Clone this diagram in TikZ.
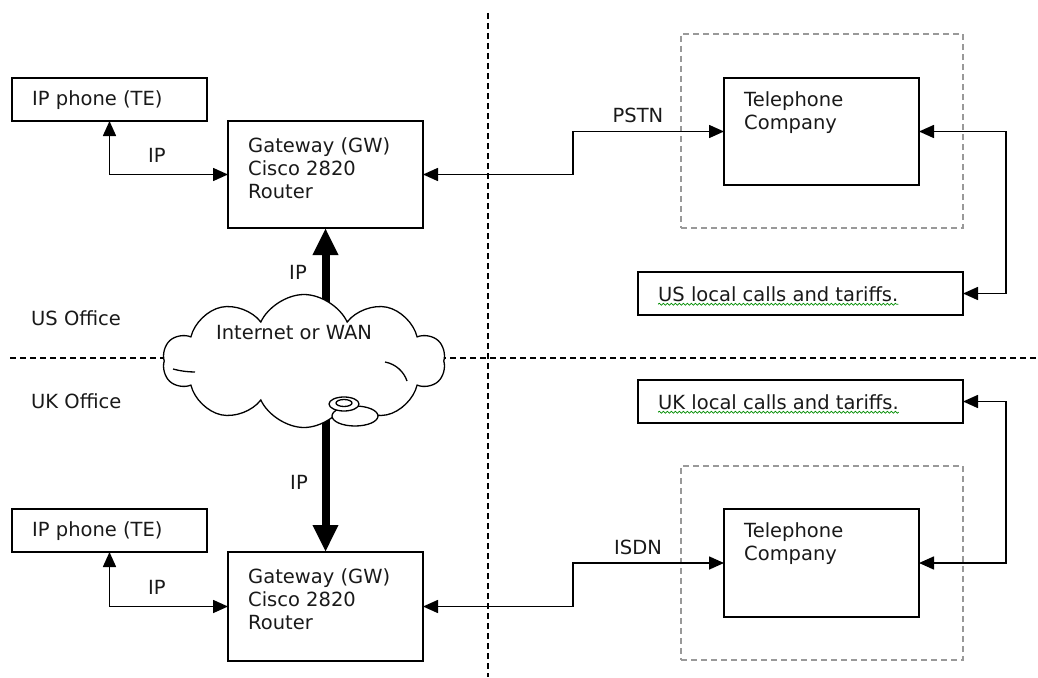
\documentclass[tikz,border=0pt]{standalone}
\usepackage{fontspec}
\setmainfont{DejaVu Sans}
\usetikzlibrary{arrows.meta,shapes.symbols,decorations.pathmorphing}
\begin{document}
\begin{tikzpicture}[x=1pt,y=-1pt,
  box/.style={draw=black,line width=1.8pt,anchor=north west,inner sep=0pt,outer sep=0pt},
  grpbox/.style={draw=black!40,line width=1.3pt,dash pattern=on 6pt off 4pt,anchor=north west,inner sep=0pt,outer sep=0pt},
  txt/.style={anchor=west,align=left,inner sep=0pt,font=\fontsize{19.5pt}{23pt}\selectfont,text=black!90},
  lbl/.style={inner sep=0pt,font=\fontsize{19.5pt}{23pt}\selectfont,text=black!90},
  conn/.style={line width=1.6pt,<->,>={Triangle[length=15pt,width=13pt]}},
  bigarrow/.style={line width=8pt,-{Triangle[length=27pt,width=24pt]}},
  divider/.style={line width=1.5pt,dash pattern=on 6pt off 4pt},
  squiggle/.style={draw=green!55!black,line width=0.7pt,decorate,decoration={snake,amplitude=1pt,segment length=4pt}},
  cloudline/.style={line width=1.3pt}
]
\useasboundingbox (0,0) rectangle (1038,677);

% dividers
\coordinate (vtop) at (488,13);
\coordinate (vbot) at (488,677);
\coordinate (hl) at (10,358);
\coordinate (hr) at (1038,358);
\draw[divider] (vtop) -- (vbot);
\draw[divider] (hl) -- (hr);

% group boxes (dashed gray)
\node[grpbox,minimum width=282pt,minimum height=194pt] (grp1) at (681,34) {};
\node[grpbox,minimum width=282pt,minimum height=194pt] (grp2) at (681,466) {};

% boxes
\node[box,minimum width=195pt,minimum height=43pt] (ph1) at (12,78) {};
\node[box,minimum width=195pt,minimum height=107pt] (gw1) at (228,121) {};
\node[box,minimum width=195pt,minimum height=107pt] (tc1) at (724,78) {};
\node[box,minimum width=325pt,minimum height=43pt] (us) at (638,272) {};

\node[box,minimum width=325pt,minimum height=43pt] (uk) at (638,380) {};
\node[box,minimum width=195pt,minimum height=108pt] (tc2) at (724,509) {};
\node[box,minimum width=195pt,minimum height=43pt] (ph2) at (12,509) {};
\node[box,minimum width=195pt,minimum height=109pt] (gw2) at (228,552) {};

% thick IP arrows (drawn before the cloud so it covers their ends)
\coordinate (ctop) at (325.5,318);
\coordinate (cbot) at (325.5,405);
\draw[bigarrow] (ctop) -- (gw1.south);
\draw[bigarrow] (cbot) -- (gw2.north);

% cloud
\node[cloud,cloud puffs=10,cloud puff arc=130,aspect=2.1,draw,fill=white,cloudline,
      minimum width=282pt,minimum height=133pt,inner sep=0pt] (net) at (304,361) {};
\draw[cloudline] (173,369) .. controls (180,371) and (188,372) .. (195,372);
\draw[cloudline] (385,362) .. controls (396,364) and (404,372) .. (407,381);
\draw[cloudline,fill=white] (355,416) ellipse [x radius=23pt,y radius=10pt];
\draw[cloudline,fill=white] (344,404) ellipse [x radius=15pt,y radius=7pt];
\draw[cloudline] (344,403) ellipse [x radius=8pt,y radius=3.5pt];
\node[lbl] (nett) at (294,333) {Internet or WAN};

% connectors
\draw[conn] (ph1.south) |- (gw1.west);
\draw[conn] (gw1.east) -- ++(150,0) |- (tc1.west);
\draw[conn] (tc1.east) -- ++(87,0) |- (us.east);

\draw[conn] (ph2.south) |- (gw2.west);
\draw[conn] (gw2.east) -- ++(150,0) |- (tc2.west);
\draw[conn] (tc2.east) -- ++(87,0) |- (uk.east);

% texts
\node[txt] (ph1t) at (32,100) {IP phone (TE)};
\node[txt] (gw1t) at (248,168) {Gateway (GW)\\Cisco 2820\\Router};
\node[txt] (tc1t) at (744,112.5) {Telephone\\Company};
\node[txt] (ust) at (658,294) {US local calls and tariffs.};
\draw[squiggle] ([yshift=-2.5pt]ust.south west) -- ([yshift=-2.5pt]ust.south east);

\node[txt] (ukt) at (658,402) {UK local calls and tariffs.};
\draw[squiggle] ([yshift=-2.5pt]ukt.south west) -- ([yshift=-2.5pt]ukt.south east);
\node[txt] (tc2t) at (744,543.5) {Telephone\\Company};
\node[txt] (ph2t) at (32,531) {IP phone (TE)};
\node[txt] (gw2t) at (248,599) {Gateway (GW)\\Cisco 2820\\Router};

\node[lbl] (ip1) at (157,155) {IP};
\node[lbl] (ip2) at (298,272) {IP};
\node[lbl] (pstn) at (638,115) {PSTN};
\node[lbl] (ip3) at (299,482) {IP};
\node[lbl] (isdn) at (638,547) {ISDN};
\node[lbl] (ip4) at (157,587) {IP};

\node[txt] (usoff) at (31,318) {US Office};
\node[txt] (ukoff) at (31,401) {UK Office};
\end{tikzpicture}
\end{document}
